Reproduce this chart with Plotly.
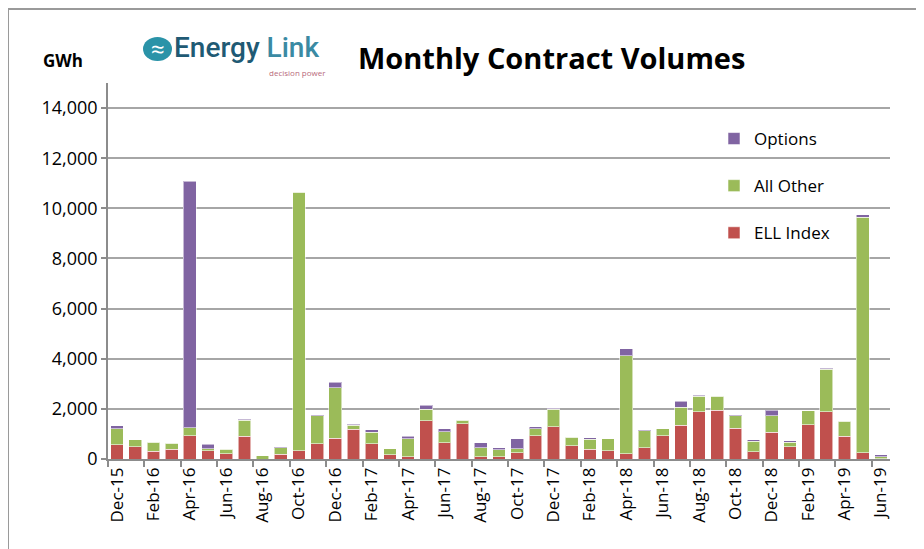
import plotly.graph_objects as go

months = ["Dec-15", "Jan-16", "Feb-16", "Mar-16", "Apr-16", "May-16", "Jun-16", "Jul-16",
          "Aug-16", "Sep-16", "Oct-16", "Nov-16", "Dec-16", "Jan-17", "Feb-17", "Mar-17",
          "Apr-17", "May-17", "Jun-17", "Jul-17", "Aug-17", "Sep-17", "Oct-17", "Nov-17",
          "Dec-17", "Jan-18", "Feb-18", "Mar-18", "Apr-18", "May-18", "Jun-18", "Jul-18",
          "Aug-18", "Sep-18", "Oct-18", "Nov-18", "Dec-18", "Jan-19", "Feb-19", "Mar-19",
          "Apr-19", "May-19", "Jun-19"]

ell_index = [570, 490, 310, 390, 930, 330, 210, 900, 0, 190, 330, 600, 825, 1180, 610, 170,
             80, 1530, 650, 1410, 90, 90, 250, 930, 1280, 530, 390, 320, 210, 450, 920, 1340,
             1880, 1940, 1220, 290, 1060, 480, 1370, 1880, 900, 240, 20]
all_other = [630, 270, 360, 240, 320, 80, 170, 650, 120, 250, 10320, 1120, 2020, 175, 450, 230,
             720, 450, 440, 130, 360, 280, 160, 270, 700, 330, 400, 480, 3910, 680, 280, 730,
             620, 560, 500, 410, 670, 190, 560, 1700, 600, 9410, 60]
options = [130, 0, 0, 0, 9840, 170, 0, 30, 0, 40, 0, 20, 210, 40, 110, 0,
           110, 170, 120, 30, 200, 70, 390, 80, 50, 10, 50, 0, 280, 30, 0, 240,
           50, 0, 30, 70, 210, 50, 0, 50, 30, 100, 80]

y_ticks = [0, 2000, 4000, 6000, 8000, 10000, 12000, 14000]
y_tick_text = ["0", "2,000", "4,000", "6,000", "8,000", "10,000", "12,000", "14,000"]

x = list(range(len(months)))
label_idx = x[::2]

line_style = dict(color="rgba(255,255,255,0.55)", width=1)
fig = go.Figure()
fig.add_trace(go.Bar(x=x, y=ell_index, name="ELL Index", marker=dict(color="#C0504D", line=line_style),
                     legendgroup="a", legendrank=3, width=0.7))
fig.add_trace(go.Bar(x=x, y=all_other, name="All Other", marker=dict(color="#9BBB59", line=line_style),
                     legendgroup="b", legendrank=2, width=0.7))
fig.add_trace(go.Bar(x=x, y=options, name="Options", marker=dict(color="#8064A2", line=line_style),
                     legendgroup="c", legendrank=1, width=0.7))

# page body has an 8px margin, so the figure is 8px smaller and offset
font_main = "Open Sans, Liberation Sans, sans-serif"
fig.update_layout(
    width=916, height=541,
    barmode="stack",
    paper_bgcolor="white", plot_bgcolor="white",
    margin=dict(l=100, r=34, t=75, b=90),
    font=dict(family=font_main, size=18, color="black"),
    showlegend=True,
    legend=dict(x=(714-108)/782, y=(459-121)/376, xanchor="left", yanchor="top",
                traceorder="grouped",
                tracegroupgap=22, font=dict(size=17), bgcolor="rgba(0,0,0,0)"),
    xaxis=dict(range=[-0.5, 42.5], tickmode="array", tickvals=label_idx,
               ticktext=[months[i] for i in label_idx], tickangle=-90, ticks="",
               showline=True, linecolor="#8c8c8c", linewidth=1.5, showgrid=False,
               zeroline=False, tickfont=dict(size=17), automargin=False,
               minor=dict(tickmode="linear", tick0=-0.5, dtick=2, ticks="outside",
                          ticklen=6, tickcolor="#8c8c8c", tickwidth=1.5, showgrid=False)),
    yaxis=dict(range=[0, 15000], tickmode="array", tickvals=y_ticks, ticktext=y_tick_text,
               ticks="outside", ticklen=5, tickcolor="#8c8c8c", tickwidth=1.5,
               showline=True, linecolor="#8c8c8c", linewidth=1.5, automargin=False,
               showgrid=True, gridcolor="#a6a6a6", gridwidth=1.5, zeroline=False,
               tickfont=dict(size=18)),
    bargap=0.3,
)

# outer chart frame
fig.add_shape(type="rect", xref="paper", yref="paper", x0=-100/782, x1=1.2, y0=-0.5, y1=(459-9)/376,
              line=dict(color="#9a9a9a", width=2), fillcolor="rgba(0,0,0,0)", layer="below")
# logo circle
fig.add_shape(type="circle", xref="paper", yref="paper",
              x0=(143-108)/782, x1=(172-108)/782, y0=(459-61)/376, y1=(459-37)/376,
              fillcolor="#2a93a8", line=dict(color="#2a93a8", width=0))

fig.add_annotation(text="<b>GWh</b>", xref="paper", yref="paper", x=(63-108)/782, y=(459-61)/376,
                   showarrow=False, font=dict(size=17, color="black"), xanchor="center", yanchor="middle")
fig.add_annotation(text="≈", xref="paper", yref="paper", x=(157.5-108)/782, y=(459-49)/376,
                   showarrow=False, font=dict(size=24, color="white"), xanchor="center", yanchor="middle")
fig.add_annotation(text="Energy <span style='color:#3a8aa3'>Link</span>", xref="paper", yref="paper",
                   x=(172-108)/782, y=(459-47)/376, showarrow=False,
                   font=dict(size=28, color="#1f5a74", family="Roboto, Open Sans, sans-serif", weight=500),
                   xanchor="left", yanchor="middle")
fig.add_annotation(text="decision power", xref="paper", yref="paper", x=(328-108)/782, y=(459-73)/376,
                   showarrow=False, font=dict(size=8, color="#b86a7a"), xanchor="right", yanchor="middle")
fig.add_annotation(text="<b>Monthly Contract Volumes</b>", xref="paper", yref="paper",
                   x=(551-108)/782, y=(459-57)/376, showarrow=False,
                   font=dict(size=29, color="black"), xanchor="center", yanchor="middle")

fig.write_html("out.html")
